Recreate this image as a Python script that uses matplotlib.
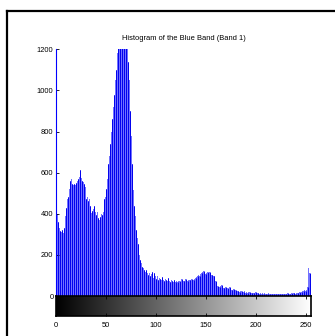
import numpy as np
import matplotlib
matplotlib.use('Agg')
import matplotlib.pyplot as plt
from matplotlib.lines import Line2D

plt.rcParams['font.family'] = ['Liberation Sans', 'DejaVu Sans']

# histogram counts for gray levels 0..255
counts = [
    1300, 400, 360, 330, 315, 310, 320, 305, 330, 390, 430, 470, 480, 520, 560, 570,
    545, 540, 545, 540, 550, 560, 570, 580, 615, 575, 560, 555, 545, 530, 470, 480,
    460, 470, 440, 405, 415, 425, 440, 410, 395, 410, 380, 370, 385, 400, 395, 410,
    470, 480, 520, 570, 640, 680, 740, 800, 860, 920, 980, 1050, 1100, 1180, 1250, 1300,
    1350, 1400, 1400, 1380, 1350, 1300, 1260, 1220, 1140, 1050, 900, 780, 640, 515, 440, 390,
    320, 280, 255, 200, 175, 160, 140, 135, 126, 115, 125, 110, 100, 112, 95, 105,
    115, 90, 110, 95, 85, 95, 80, 90, 85, 78, 92, 80, 75, 85, 80, 72,
    88, 75, 70, 80, 74, 68, 78, 72, 70, 74, 66, 72, 75, 70, 85, 80,
    75, 72, 82, 78, 74, 80, 78, 76, 82, 74, 80, 85, 88, 92, 95, 100,
    98, 105, 110, 118, 122, 100, 105, 112, 118, 110, 115, 112, 102, 100, 95, 96,
    72, 50, 48, 45, 46, 48, 52, 42, 38, 40, 45, 35, 38, 30, 42, 36,
    28, 30, 34, 26, 30, 24, 22, 26, 20, 22, 24, 18, 20, 22, 17, 19,
    16, 20, 18, 15, 17, 14, 16, 15, 18, 14, 13, 15, 12, 14, 11, 13,
    12, 14, 10, 12, 11, 13, 10, 12, 9, 11, 10, 12, 9, 11, 10, 9,
    11, 10, 12, 9, 11, 10, 12, 11, 13, 10, 12, 11, 14, 12, 13, 15,
    12, 14, 16, 15, 18, 17, 20, 22, 24, 28, 25, 30, 45, 135, 110, 60,
]
levels = np.arange(256)
y_ticks = [0, 200, 400, 600, 800, 1000, 1200]
x_ticks = [0, 50, 100, 150, 200, 250]
title = 'Histogram of the Blue Band (Band 1)'

fig = plt.figure(figsize=(3.35, 3.36), dpi=100)

# outer frame (cut off at right and bottom)
fx, fy = 7 / 335, 1 - 11 / 336
fig.add_artist(Line2D([fx, 1.0], [fy, fy], color='black', lw=1.6))
fig.add_artist(Line2D([fx, fx], [fy, 0.0], color='black', lw=1.6))

# histogram axes
ax = fig.add_axes([0.168, 0.119, 0.7594, 0.7342])
ax.bar(levels, counts, width=1.0, color='#7272ff', linewidth=0)
ax.vlines(levels[::2], 0, np.array(counts)[::2], color='#0000ee', lw=0.7)
ax.set_xlim(0, 255)
ax.set_ylim(0, 1200)
ax.set_yticks(y_ticks)
ax.set_xticks(x_ticks)
ax.set_xticklabels([])
ax.tick_params(direction='in', length=2, width=0.6, labelsize=5.4, pad=2)
ax.spines['top'].set_visible(False)
ax.spines['right'].set_visible(False)
ax.spines['bottom'].set_visible(False)
ax.spines['left'].set_color('#0000ff')
fig.text(0.5475, 0.884, title, ha='center', va='center', fontsize=5.4)

# gray level bar
cax = fig.add_axes([0.168, 0.0595, 0.7594, 0.0595])
cax.imshow(np.arange(256)[None, :], cmap='gray', aspect='auto',
           extent=[0, 255, 0, 1], vmin=0, vmax=255)
cax.set_xlim(0, 255)
cax.set_ylim(0, 1)
cax.set_xticks(x_ticks)
cax.set_yticks([])
cax.tick_params(axis='x', direction='in', length=2, width=0.6, top=True,
                labelsize=5.4, pad=4)
for s in cax.spines.values():
    s.set_linewidth(1.2)

fig.savefig('out.png', dpi=100)
